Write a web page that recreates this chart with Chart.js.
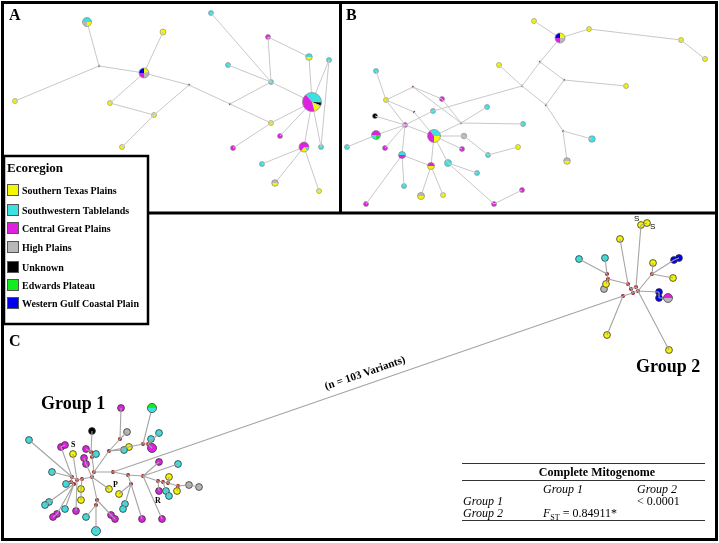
<!DOCTYPE html>
<html>
<head>
<meta charset="utf-8">
<script src="https://cdn.jsdelivr.net/npm/chart.js@4.4.0/dist/chart.umd.min.js"></script>
<style>
  html, body { margin: 0; padding: 0; background: #fff; }
  canvas { display: block; }
</style>
</head>
<body>
<canvas id="red" width="719" height="543"></canvas>
<script>
// Colores de cada ecorregion
const colores = { Y: '#f6f600', C: '#3ce0e0', M: '#e020e0', G: '#b8b8b8', K: '#000000', E: '#10ee20', B: '#0000ee', V: '#7a3a3a', R: '#a01c1c' };

const ecoregiones = ['Southern Texas Plains', 'Southwestern Tablelands', 'Central Great Plains', 'High Plains', 'Unknown', 'Edwards Plateau', 'Western Gulf Coastal Plain'];
const ecoClaves = ['Y', 'C', 'M', 'G', 'K', 'E', 'B'];

// Nodos: [id, x, y, radio, relleno]  (relleno = clave o [anguloInicio, [clave, fraccion]...])
const nodosA = [
  ['a1', 87, 22, 4.5, [180, ['C', .5], ['Y', .25], ['G', .25]]],
  ['a2', 163, 32, 3, 'Y'], ['a3', 211, 13, 2.5, 'C'], ['a4', 268, 37, 2.5, 'M'],
  ['a5', 309, 57, 3.3, [180, ['C', .5], ['Y', .5]]],
  ['a6', 329, 60, 2.5, 'C'], ['a7', 228, 65, 2.5, 'C'], ['a8', 271, 82, 2.5, 'C'],
  ['a9', 99, 66, 1.2, 'V'],
  ['a10', 144, 73, 5, [-90, ['Y', .2], ['G', .3], ['M', .25], ['B', .25]]],
  ['a11', 15, 101, 2.5, 'Y'], ['a12', 110, 103, 2.5, 'Y'], ['a13', 189, 85, 1.2, 'V'],
  ['a14', 154, 115, 2.5, 'Y'], ['a15', 122, 147, 2.5, 'Y'], ['a16', 230, 104, 1.2, 'V'],
  ['a17', 312, 102, 9.5, [-130, ['C', .37], ['K', .05], ['G', .03], ['Y', .12], ['M', .43]]],
  ['a18', 271, 123, 2.5, 'Y'], ['a19', 280, 136, 2.5, 'M'], ['a20', 233, 148, 2.5, 'M'],
  ['a21', 304, 147, 5, [0, ['C', .15], ['Y', .2], ['M', .65]]],
  ['a22', 321, 147, 2.5, 'C'], ['a23', 262, 164, 2.5, 'C'],
  ['a24', 275, 183, 3.3, [180, ['G', .5], ['Y', .5]]],
  ['a25', 319, 191, 2.5, 'Y']
];
const aristasA = ['a1-a9', 'a9-a11', 'a9-a10', 'a10-a2', 'a10-a12', 'a12-a14', 'a14-a13', 'a14-a15', 'a10-a13',
  'a13-a16', 'a16-a8', 'a16-a18', 'a8-a7', 'a8-a3', 'a8-a4', 'a4-a5', 'a8-a17', 'a5-a17', 'a6-a17', 'a6-a22',
  'a17-a22', 'a17-a18', 'a17-a19', 'a17-a21', 'a18-a20', 'a21-a23', 'a21-a24', 'a21-a25'];

const nodosB = [
  ['b1', 534, 21, 2.5, 'Y'],
  ['b2', 560, 38, 5, [-90, ['Y', .25], ['G', .25], ['M', .25], ['B', .25]]],
  ['b3', 589, 29, 2.5, 'Y'], ['b4', 681, 40, 2.5, 'Y'], ['b5', 705, 59, 2.5, 'Y'],
  ['b6', 540, 62, 1.2, 'V'], ['b7', 499, 65, 2.5, 'Y'], ['b8', 522, 86, 1.2, 'V'], ['b9', 564, 80, 1.2, 'V'],
  ['b10', 626, 86, 2.5, 'Y'], ['b11', 546, 105, 1.2, 'V'], ['b12', 563, 131, 1.2, 'V'],
  ['b13', 592, 139, 3.3, 'C'], ['b14', 567, 161, 3.3, [180, ['G', .5], ['Y', .5]]],
  ['b15', 376, 71, 2.5, 'C'], ['b16', 413, 87, 1.2, 'V'], ['b17', 386, 100, 2.5, 'Y'], ['b18', 442, 99, 2.5, 'M'],
  ['b19', 414, 112, 1.2, 'V'], ['b20', 433, 111, 2.5, 'C'], ['b21', 375, 116, 2.5, 'K'], ['b22', 487, 107, 2.5, 'C'],
  ['b23', 461, 123, 1.2, 'V'], ['b24', 523, 124, 2.5, 'C'], ['b25', 405, 125, 2.5, 'M'],
  ['b26', 376, 135, 4.5, [180, ['M', .5], ['E', .25], ['C', .25]]],
  ['b27', 434, 136, 6.5, [-90, ['C', .25], ['Y', .25], ['M', .4], ['C', .1]]],
  ['b28', 464, 136, 2.8, 'G'], ['b29', 347, 147, 2.5, 'C'], ['b30', 385, 148, 2.5, 'M'], ['b31', 462, 149, 2.5, 'M'],
  ['b32', 518, 147, 2.5, 'Y'], ['b33', 488, 155, 2.5, 'C'],
  ['b34', 402, 155, 3.5, [180, ['C', .5], ['M', .5]]],
  ['b35', 448, 163, 3.5, 'C'],
  ['b36', 431, 166, 3.5, [180, ['M', .5], ['Y', .5]]],
  ['b37', 477, 173, 2.5, 'C'], ['b38', 404, 186, 2.5, 'C'],
  ['b39', 421, 196, 3.5, [180, ['G', .5], ['Y', .5]]],
  ['b40', 443, 195, 2.5, 'Y'], ['b41', 366, 204, 2.5, 'M'], ['b42', 494, 204, 2.5, 'M'], ['b43', 522, 190, 2.5, 'M']
];
const aristasB = ['b1-b2', 'b2-b3', 'b3-b4', 'b4-b5', 'b2-b6', 'b6-b8', 'b6-b9', 'b9-b10', 'b9-b11', 'b8-b11', 'b8-b7',
  'b11-b12', 'b12-b13', 'b12-b14', 'b8-b20', 'b20-b25', 'b15-b17', 'b17-b16', 'b16-b18', 'b16-b23', 'b18-b23',
  'b17-b19', 'b19-b27', 'b17-b25', 'b23-b24', 'b23-b22', 'b27-b23', 'b21-b25', 'b26-b25', 'b29-b26', 'b30-b25',
  'b34-b25', 'b25-b27', 'b27-b28', 'b28-b33', 'b33-b32', 'b27-b31', 'b27-b36', 'b27-b35', 'b35-b37', 'b35-b42',
  'b42-b43', 'b34-b36', 'b34-b38', 'b34-b41', 'b36-b39', 'b36-b40'];

// Panel C: grupo 1 (c), vectores medios (v), grupo 2 (g, w)
const nodosC = [
  ['c1', 121, 408, 3.4, 'M'], ['c2', 152, 408, 4.6, [180, ['E', .5], ['C', .5]]],
  ['c3', 92, 431, 3.4, 'K'], ['c4', 127, 432, 3.4, 'G'], ['c5', 159, 433, 3.4, 'C'], ['c6', 29, 440, 3.4, 'C'],
  ['c7', 61, 447, 3.4, 'M'], ['c8', 65, 445, 3.4, 'M'], ['c9', 73, 454, 3.4, 'Y'], ['c10', 86, 449, 3.4, 'M'],
  ['c11', 96, 454, 3.4, 'C'], ['c12', 151, 439, 3.4, 'C'], ['c13', 152, 448, 4.5, 'M'], ['c14', 129, 447, 3.4, 'Y'],
  ['c15', 124, 450, 3.4, 'C'], ['c16', 84, 458, 3.4, 'M'], ['c17', 86, 464, 3.4, 'M'], ['c18', 52, 472, 3.4, 'C'],
  ['c19', 159, 462, 3.4, 'M'], ['c20', 178, 464, 3.4, 'C'], ['c21', 66, 484, 3.4, 'C'], ['c22', 169, 477, 3.4, 'Y'],
  ['c23', 109, 489, 3.4, 'Y'], ['c24', 81, 489, 3.4, 'Y'], ['c25', 119, 494, 3.4, 'Y'], ['c26', 189, 485, 3.4, 'G'],
  ['c27', 199, 487, 3.4, 'G'], ['c28', 177, 491, 3.4, 'Y'], ['c29', 159, 491, 3.4, 'M'], ['c30', 166, 491, 3.4, 'C'],
  ['c31', 169, 496, 3.4, 'C'], ['c32', 81, 500, 3.4, 'Y'], ['c33', 49, 502, 3.4, 'C'], ['c34', 45, 505, 3.4, 'C'],
  ['c35', 125, 504, 3.4, 'C'], ['c36', 123, 509, 3.4, 'C'], ['c37', 65, 509, 3.4, 'C'], ['c38', 76, 511, 3.4, 'M'],
  ['c39', 57, 514, 3.4, 'M'], ['c40', 53, 517, 3.4, 'M'], ['c41', 86, 517, 3.4, 'C'], ['c42', 111, 515, 3.4, 'M'],
  ['c43', 115, 519, 3.4, 'M'], ['c44', 142, 519, 3.4, 'M'], ['c45', 162, 519, 3.4, 'M'], ['c46', 96, 531, 4.5, 'C'],
  ['v1', 120, 439, 2, 'R'], ['v2', 143, 444, 2, 'R'], ['v3', 148, 444, 2, 'R'], ['v4', 109, 451, 2, 'R'],
  ['v5', 91, 452, 2, 'R'], ['v6', 92, 457, 2, 'R'], ['v7', 94, 472, 2, 'R'], ['v8', 92, 477, 2, 'R'],
  ['v9', 113, 472, 2, 'R'], ['v10', 128, 475, 2, 'R'], ['v11', 143, 476, 2, 'R'], ['v12', 131, 484, 2, 'R'],
  ['v13', 72, 477, 2, 'R'], ['v14', 71, 482, 2, 'R'], ['v15', 77, 480, 2, 'R'], ['v16', 74, 484, 2, 'R'],
  ['v17', 82, 479, 2, 'R'], ['v18', 158, 481, 2, 'R'], ['v19', 163, 482, 2, 'R'], ['v20', 168, 483, 2, 'R'],
  ['v21', 178, 486, 2, 'R'], ['v22', 97, 500, 2, 'R'], ['v23', 96, 505, 2, 'R'],
  ['g1', 641, 225, 3.4, 'Y'], ['g2', 647, 223, 3.4, 'Y'], ['g3', 620, 239, 3.4, 'Y'], ['g4', 579, 259, 3.4, 'C'],
  ['g5', 605, 258, 3.4, 'C'], ['g6', 653, 263, 3.4, 'Y'], ['g7', 674, 260, 3.4, 'B'], ['g8', 679, 258, 3.4, 'B'],
  ['g9', 673, 278, 3.4, 'Y'], ['g10', 604, 289, 3.4, 'G'], ['g11', 606, 284, 3.4, 'Y'], ['g12', 659, 292, 3.4, 'B'],
  ['g13', 659, 298, 3.4, 'B'], ['g14', 668, 298, 4.5, [180, ['M', .5], ['G', .5]]], ['g15', 607, 335, 3.4, 'Y'],
  ['g16', 669, 350, 3.4, 'Y'],
  ['w1', 607, 274, 2, 'R'], ['w2', 608, 279, 2, 'R'], ['w3', 652, 274, 2, 'R'], ['w4', 628, 284, 2, 'R'],
  ['w5', 631, 289, 2, 'R'], ['w6', 636, 287, 2, 'R'], ['w7', 633, 293, 2, 'R'], ['w8', 638, 291, 2, 'R'],
  ['w9', 623, 296, 2, 'R']
];
const aristasC = ['c1-v1', 'v1-c4', 'v1-v4', 'v4-c14', 'v4-c15', 'v4-v2', 'c2-v2', 'v2-v3', 'v3-c13', 'v3-c12', 'v3-c5',
  'v4-v7', 'c3-v5', 'v5-v6', 'v6-v7', 'c10-v5', 'v6-c11', 'c17-v8', 'c16-c17', 'v7-v8', 'v8-v17', 'v7-v9',
  'v9-v10', 'v10-v11', 'v10-v12', 'v12-c25', 'v12-c35', 'c35-c36', 'v12-c44', 'v11-c19', 'v11-c20', 'v11-v18',
  'v11-c45', 'v18-v19', 'v19-v20', 'v20-v21', 'v21-c26', 'c26-c27', 'v20-c22', 'v21-c28', 'v18-c29', 'v19-c30',
  'c30-c31', 'v8-c23', 'v8-v22', 'v22-v23', 'v23-c46', 'v22-c42', 'c42-c43', 'v23-c41', 'v17-v15', 'v15-v13',
  'v13-c6', 'v13-c7', 'c7-c8', 'v15-c9', 'v13-c18', 'v14-c21', 'v13-v14', 'v14-v16', 'v16-c33', 'c33-c34',
  'v16-c37', 'v15-c38', 'v16-c39', 'c39-c40', 'v17-c24', 'c24-c32',
  'v9-w9', 'w9-g15', 'w9-w7', 'w7-w5', 'w5-w4', 'w4-g3', 'w6-g1', 'g1-g2', 'w5-w6', 'w6-w8', 'w7-w8', 'w2-w4',
  'w1-w2', 'w1-g4', 'w1-g5', 'w2-g11', 'w8-w3', 'w3-g6', 'w3-g7', 'g7-g8', 'w3-g9', 'w8-g12', 'g12-g13',
  'g13-g14', 'w8-g16'];

// Textos pequeños junto a nodos: [texto, x, y]
const etiquetasC = [['S', 71, 447], ['P', 113, 487], ['R', 155, 503]];
const etiquetasG2 = [['S', 634, 221], ['S', 650, 229]];

const tablaFilas = [
  ['', 'Group 1', 'Group 2'],
  ['Group 1', '', '< 0.0001'],
  ['Group 2', 'FST', '']
];
const fst = '0.84911*';

// Construir aristas como linea con huecos
function datosAristas(nodos, aristas) {
  const m = {};
  nodos.forEach(n => m[n[0]] = n);
  const out = [];
  aristas.forEach(a => {
    const [p, q] = a.split('-').map(k => m[k]);
    out.push({ x: p[1], y: p[2] }, { x: q[1], y: q[2] }, { x: q[1], y: null });
  });
  return out;
}

function datasetNodos(nodos, borde, ancho) {
  const solidos = nodos.filter(n => typeof n[4] === 'string');
  return {
    type: 'scatter',
    data: solidos.map(n => ({ x: n[1], y: n[2] })),
    pointRadius: solidos.map(n => n[3]),
    pointBackgroundColor: solidos.map(n => colores[n[4]]),
    pointBorderColor: solidos.map(n => (n[4] === 'V' || n[4] === 'R') ? colores[n[4]] : borde),
    pointBorderWidth: solidos.map(n => (n[4] === 'V' || n[4] === 'R') ? 0 : ancho),
    showLine: false
  };
}

function datasetAristas(nodos, aristas, color, ancho) {
  return {
    type: 'scatter',
    data: datosAristas(nodos, aristas),
    showLine: true, spanGaps: false,
    borderColor: color, borderWidth: ancho,
    pointRadius: 0
  };
}

const todasPies = [...nodosA, ...nodosB, ...nodosC].filter(n => Array.isArray(n[4]));

// Tortas (nodos con varias ecorregiones)
const pluginPies = {
  id: 'pies',
  afterDatasetsDraw(chart) {
    const { ctx, scales: { x, y } } = chart;
    const k = x.getPixelForValue(1) - x.getPixelForValue(0);
    todasPies.forEach(n => {
      const cx = x.getPixelForValue(n[1]), cy = y.getPixelForValue(n[2]), r = n[3] * k;
      let a = n[4][0] * Math.PI / 180;
      n[4].slice(1).forEach(([c, f]) => {
        const b = a + f * 2 * Math.PI;
        ctx.beginPath(); ctx.moveTo(cx, cy); ctx.arc(cx, cy, r, a, b); ctx.closePath();
        ctx.fillStyle = colores[c]; ctx.fill();
        a = b;
      });
      ctx.beginPath(); ctx.arc(cx, cy, r, 0, 2 * Math.PI);
      ctx.strokeStyle = n[0][0] === 'a' || n[0][0] === 'b' ? '#888' : '#333';
      ctx.lineWidth = 0.7; ctx.stroke();
    });
  }
};

// Marcos, leyenda, textos y tabla
const pluginFigura = {
  id: 'figura',
  afterDraw(chart) {
    const { ctx, scales: { x, y } } = chart;
    const px = v => x.getPixelForValue(v), py = v => y.getPixelForValue(v);
    ctx.save();
    // marcos de paneles
    ctx.strokeStyle = '#000'; ctx.lineWidth = 3;
    ctx.strokeRect(px(2.5), py(2.5), px(716.5) - px(2.5), py(539.5) - py(2.5));
    ctx.beginPath();
    ctx.moveTo(px(2.5), py(213)); ctx.lineTo(px(716.5), py(213));
    ctx.moveTo(px(340.5), py(2.5)); ctx.lineTo(px(340.5), py(213));
    ctx.stroke();

    // leyenda
    ctx.fillStyle = '#fff';
    ctx.fillRect(px(4), py(156), 144, 168);
    ctx.lineWidth = 2.5;
    ctx.strokeRect(px(4), py(156), 144, 168);
    ctx.fillStyle = '#000';
    ctx.font = 'bold 13px "Liberation Serif"';
    ctx.textAlign = 'left'; ctx.textBaseline = 'alphabetic';
    ctx.fillText('Ecoregion', px(7), py(172));
    const ys = [190, 210, 228, 247, 267, 285, 303];
    ecoregiones.forEach((t, i) => {
      ctx.fillStyle = colores[ecoClaves[i]];
      ctx.fillRect(px(7), py(ys[i] - 6), 12, 12);
      ctx.strokeStyle = '#555'; ctx.lineWidth = 1;
      ctx.strokeRect(px(7) + 0.5, py(ys[i] - 6) + 0.5, 11, 11);
      ctx.fillStyle = '#000';
      ctx.font = 'bold 10px "Liberation Serif"';
      ctx.fillText(t, px(22), py(ys[i] + 3.5));
    });

    // letras de panel
    ctx.font = 'bold 16px "Liberation Serif"';
    ctx.fillText('A', px(9), py(20));
    ctx.fillText('B', px(346), py(20));
    ctx.fillText('C', px(9), py(346));

    // grupos
    ctx.font = 'bold 18px "Liberation Serif"';
    ctx.fillText('Group 1', px(41), py(409));
    ctx.fillText('Group 2', px(636), py(372));

    // etiqueta de la rama larga
    const a1 = { x: px(113), y: py(472) }, a2 = { x: px(623), y: py(296) };
    const ang = Math.atan2(a2.y - a1.y, a2.x - a1.x);
    ctx.save();
    ctx.translate(px(366), py(376));
    ctx.rotate(ang);
    ctx.textAlign = 'center';
    ctx.font = 'bold 11px "Liberation Serif"';
    ctx.fillText('(n = 103 Variants)', 0, 0);
    ctx.restore();

    // letras pequeñas
    ctx.font = 'bold 8px "Liberation Serif"';
    etiquetasC.forEach(([t, ex, ey]) => ctx.fillText(t, px(ex), py(ey)));
    ctx.font = '8px "Liberation Sans"';
    etiquetasG2.forEach(([t, ex, ey]) => ctx.fillText(t, px(ex), py(ey)));

    // tabla
    ctx.strokeStyle = '#333'; ctx.lineWidth = 1;
    [463.5, 480.5, 520.5].forEach(ly => {
      ctx.beginPath(); ctx.moveTo(px(462), py(ly)); ctx.lineTo(px(705), py(ly)); ctx.stroke();
    });
    ctx.textAlign = 'center';
    ctx.font = 'bold 12px "Liberation Serif"';
    ctx.fillText('Complete Mitogenome', px(597), py(476));
    ctx.textAlign = 'left';
    const colX = [463, 543, 637], filaY = [493, 505, 517];
    tablaFilas.forEach((fila, i) => {
      fila.forEach((t, j) => {
        if (!t) return;
        if (t === 'FST') {
          ctx.font = 'italic 12px "Liberation Serif"';
          ctx.fillText('F', px(colX[j]), py(filaY[i]));
          const w = ctx.measureText('F').width;
          ctx.font = '8px "Liberation Serif"';
          ctx.fillText('ST', px(colX[j]) + w, py(filaY[i] + 3));
          const w2 = ctx.measureText('ST').width;
          ctx.font = '12px "Liberation Serif"';
          ctx.fillText(' = ' + fst, px(colX[j]) + w + w2, py(filaY[i]));
          return;
        }
        ctx.font = (t.startsWith('Group') ? 'italic ' : '') + '12px "Liberation Serif"';
        ctx.fillText(t, px(colX[j]), py(filaY[i]));
      });
    });
    ctx.restore();
  }
};

new Chart(document.getElementById('red'), {
  type: 'scatter',
  data: {
    datasets: [
      datasetAristas(nodosA, aristasA, '#c8c8c8', 1),
      datasetAristas(nodosB, aristasB, '#c8c8c8', 1),
      datasetAristas(nodosC, aristasC, '#a4a4a4', 1.1),
      datasetNodos(nodosA, '#888', 0.6),
      datasetNodos(nodosB, '#888', 0.6),
      datasetNodos(nodosC, '#333', 0.8)
    ]
  },
  options: {
    responsive: false,
    animation: false,
    events: [],
    layout: { padding: 0, autoPadding: false },
    plugins: { legend: { display: false }, tooltip: { enabled: false } },
    scales: {
      x: { type: 'linear', min: 0, max: 719, display: false },
      y: { type: 'linear', min: 0, max: 543, reverse: true, display: false }
    }
  },
  plugins: [pluginPies, pluginFigura]
});
</script>
</body>
</html>
